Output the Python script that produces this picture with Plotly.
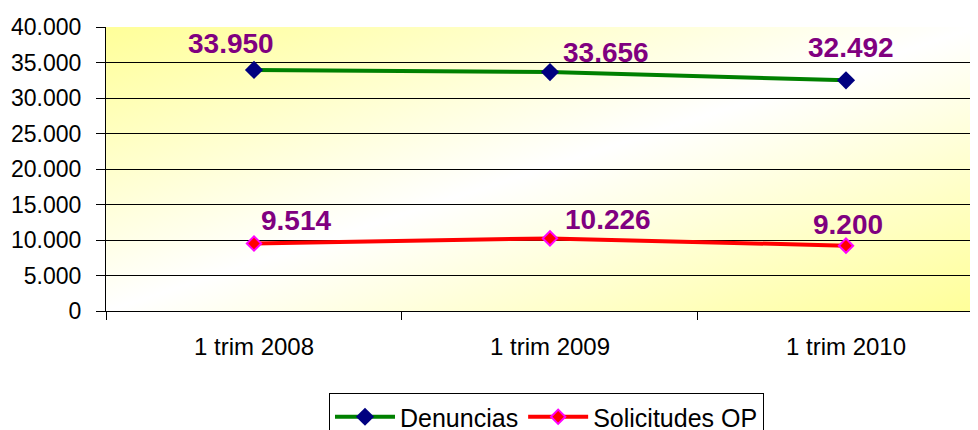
import base64
import plotly.graph_objects as go

categories = ["1 trim 2008", "1 trim 2009", "1 trim 2010"]
denuncias = [33950, 33656, 32492]
solicitudes = [9514, 10226, 9200]
denuncias_labels = ["33.950", "33.656", "32.492"]
solicitudes_labels = ["9.514", "10.226", "9.200"]
y_tickvals = [0, 5000, 10000, 15000, 20000, 25000, 30000, 35000, 40000]
y_ticktext = ["0", "5.000", "10.000", "15.000", "20.000", "25.000", "30.000", "35.000", "40.000"]

FONT = "Liberation Sans, Arial, sans-serif"

# page body adds an 8px offset, so the figure is sized to fill the remaining window
W, H = 970, 422
L, T = 98, 19
PLOT_BOTTOM = 303

svg = (
    '<svg xmlns="http://www.w3.org/2000/svg" width="100" height="100" viewBox="0 0 100 100" '
    'preserveAspectRatio="none"><defs><linearGradient id="g" x1="0" y1="0" x2="1" y2="1">'
    '<stop offset="0" stop-color="#FFFF99"/><stop offset="0.5" stop-color="#FFFFFF"/>'
    '<stop offset="1" stop-color="#FFFF99"/></linearGradient></defs>'
    '<rect width="100" height="100" fill="url(#g)"/></svg>'
)
bg_src = "data:image/svg+xml;base64," + base64.b64encode(svg.encode()).decode()

fig = go.Figure()
fig.add_trace(go.Scatter(
    x=categories, y=denuncias, name="Denuncias", mode="lines+markers",
    line=dict(color="#008000", width=4),
    marker=dict(symbol="diamond", size=14, color="#000080", line=dict(width=0)),
))
fig.add_trace(go.Scatter(
    x=categories, y=solicitudes, name="Solicitudes OP", mode="lines+markers",
    line=dict(color="#FF0000", width=4),
    marker=dict(symbol="diamond", size=11, color="#FF0000", line=dict(width=2, color="#FF00FF")),
))

d_shifts = [(-23, 26), (56, 20), (5, 33)]
s_shifts = [(42, 23), (58, 19), (2, 21)]
for cat, val, lab, (dx, dy) in zip(categories, denuncias, denuncias_labels, d_shifts):
    fig.add_annotation(x=cat, y=val, text=lab, showarrow=False, xshift=dx, yshift=dy,
                       font=dict(family=FONT, size=28, color="#800080", weight="bold"))
for cat, val, lab, (dx, dy) in zip(categories, solicitudes, solicitudes_labels, s_shifts):
    fig.add_annotation(x=cat, y=val, text=lab, showarrow=False, xshift=dx, yshift=dy,
                       font=dict(family=FONT, size=28, color="#800080", weight="bold"))

fig.add_layout_image(dict(
    source=bg_src, xref="paper", yref="paper", x=0, y=1, sizex=1, sizey=1,
    sizing="stretch", xanchor="left", yanchor="top", layer="below",
))

plot_w = W - L
fig.update_layout(
    template="none",
    width=W, height=H,
    margin=dict(l=L, r=0, t=T, b=H - PLOT_BOTTOM, pad=0),
    paper_bgcolor="white",
    plot_bgcolor="rgba(0,0,0,0)",
    font=dict(family=FONT, color="black"),
    showlegend=True,
    legend=dict(
        orientation="h", xref="paper", x=(321 - L) / plot_w, xanchor="left",
        yref="container", y=(H - 385) / H, yanchor="top",
        bordercolor="black", borderwidth=1, bgcolor="white",
        font=dict(family=FONT, size=25, color="black"),
        itemwidth=60,
    ),
    xaxis=dict(
        type="category", range=[-0.5, 2.446], automargin=False,
        showline=True, linecolor="black", linewidth=1,
        ticks="outside", tickson="boundaries", ticklen=8, tickcolor="black", tickwidth=1,
        showgrid=False, zeroline=False, tickfont=dict(family=FONT, size=24, color="black"),
        ticklabelstandoff=14,
    ),
    yaxis=dict(
        range=[0, 40000], tickvals=y_tickvals, ticktext=y_ticktext, automargin=False,
        showline=True, linecolor="black", linewidth=1,
        ticks="outside", ticklen=9, tickcolor="black", tickwidth=1,
        showgrid=True, gridcolor="black", gridwidth=1, zeroline=False,
        tickfont=dict(family=FONT, size=23, color="black"),
        ticklabelstandoff=10,
    ),
)

fig.write_html("out.html")
